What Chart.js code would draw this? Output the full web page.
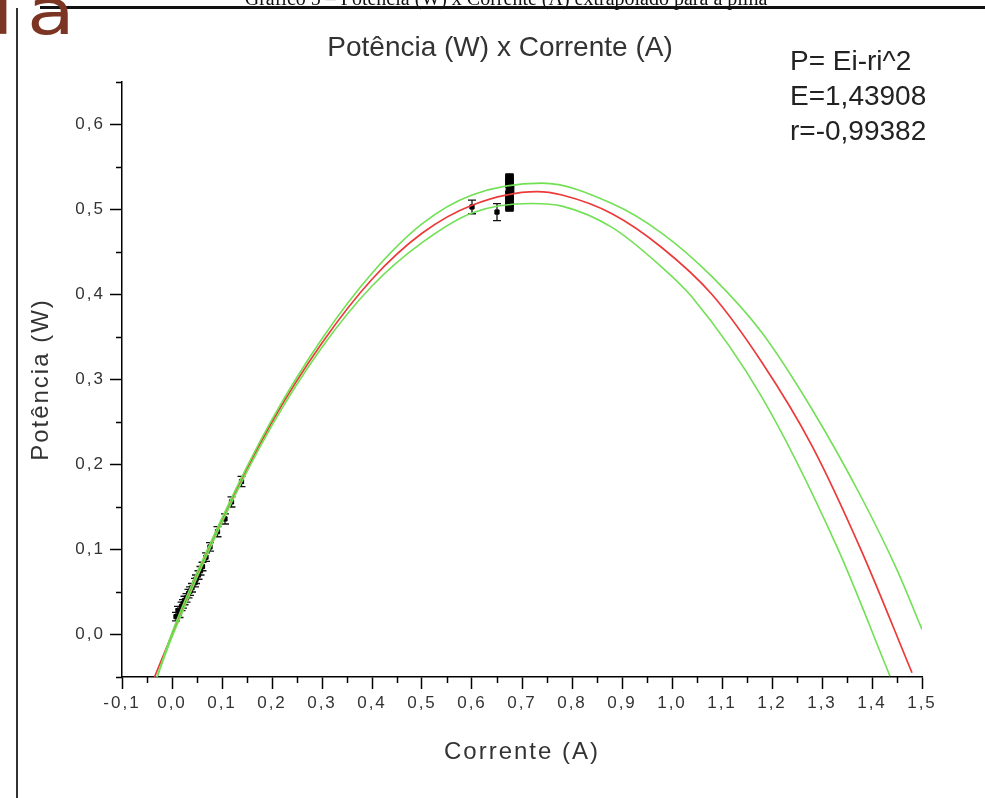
<!DOCTYPE html>
<html lang="pt">
<head>
<meta charset="utf-8">
<title>Potência (W) x Corrente (A)</title>
<script src="https://cdn.jsdelivr.net/npm/chart.js@4/dist/chart.umd.min.js"></script>
<style>
  body { margin: 0; background: #fff; }
  #wrap { position: relative; width: 985px; height: 798px; overflow: hidden; font-family: "Liberation Sans", Arial, sans-serif; }
  #potChart { position: absolute; left: 0; top: 0; }
  .caption { position: absolute; left: 0; width: 1012px; top: -13px; text-align: center; font: 20px "Liberation Serif", serif; color: #111; white-space: nowrap; }
  .rule-top { position: absolute; left: 40px; top: 6px; width: 945px; height: 3px; background: #111; }
  .rule-left { position: absolute; left: 16px; top: 8px; width: 2px; height: 790px; background: #333; }
  .slide-word { position: absolute; left: -8px; top: -25px; font: 64px "DejaVu Sans", sans-serif; color: #7c3523; letter-spacing: 11px; transform: scaleX(1.22); transform-origin: left top; }
  .title { position: absolute; left: 250px; width: 500px; top: 31px; text-align: center; font-size: 28px; color: #333; white-space: nowrap; }
  .fit-note { position: absolute; left: 790px; top: 43px; font-size: 28px; line-height: 35px; color: #222; white-space: nowrap; }
</style>
</head>
<body>
<div id="wrap">
  <canvas id="potChart" width="985" height="798"></canvas>
  <div class="caption">Gráfico 5 – Potência (W) x Corrente (A) extrapolado para a pilha</div>
  <div class="rule-top"></div>
  <div class="rule-left"></div>
  <div class="slide-word">la</div>
  <div class="title">Potência (W) x Corrente (A)</div>
  <div class="fit-note">P= Ei-ri^2<br>E=1,43908<br>r=-0,99382</div>
</div>
<script>
// Measured points (current in A, power in W) with their vertical error
const correnteA = [0.008, 0.012, 0.015, 0.019, 0.022, 0.025, 0.029, 0.033, 0.036, 0.040, 0.046, 0.048, 0.053, 0.057,
  0.061, 0.068, 0.076, 0.091, 0.106, 0.119, 0.139, 0.600, 0.650, 0.675, 0.675, 0.675, 0.676, 0.675, 0.675];
const potenciaW = [0.021, 0.028, 0.025, 0.033, 0.036, 0.040, 0.043, 0.048, 0.051, 0.055, 0.061, 0.065, 0.070, 0.075,
  0.080, 0.091, 0.103, 0.121, 0.136, 0.156, 0.180, 0.503, 0.497, 0.503, 0.510, 0.517, 0.524, 0.531, 0.537];
const erroW = [0.005, 0.005, 0.005, 0.005, 0.005, 0.005, 0.005, 0.005, 0.005, 0.005, 0.005, 0.005, 0.005, 0.005,
  0.005, 0.005, 0.005, 0.006, 0.006, 0.006, 0.006, 0.008, 0.010, 0.005, 0.005, 0.005, 0.005, 0.005, 0.005];

// Fitted curve P = Ei - ri^2 (red)
const ajusteX = [-0.035, 0.0, 0.1, 0.2, 0.3, 0.4, 0.5, 0.6, 0.73, 0.78, 0.88, 0.98, 1.08, 1.18, 1.28, 1.38, 1.48];
const ajusteY = [-0.05, 0.0, 0.135, 0.25, 0.343, 0.418, 0.472, 0.505, 0.521, 0.517, 0.495, 0.455, 0.40, 0.32, 0.222, 0.097, -0.045];

// Confidence band (green), upper and lower
const bandaSupX = [-0.03, 0.0, 0.1, 0.2, 0.3, 0.4, 0.5, 0.6, 0.74, 0.88, 0.98, 1.08, 1.18, 1.28, 1.38, 1.45, 1.5];
const bandaSupY = [-0.05, 0.002, 0.137, 0.253, 0.348, 0.425, 0.483, 0.517, 0.531, 0.507, 0.472, 0.421, 0.355, 0.265, 0.160, 0.076, 0.006];
const bandaInfX = [-0.03, 0.0, 0.1, 0.2, 0.3, 0.4, 0.5, 0.6, 0.72, 0.78, 0.88, 0.98, 1.04, 1.18, 1.33, 1.436];
const bandaInfY = [-0.05, -0.003, 0.132, 0.246, 0.338, 0.41, 0.461, 0.496, 0.507, 0.504, 0.479, 0.432, 0.397, 0.279, 0.103, -0.049];

const toXY = (xs, ys) => xs.map((x, i) => ({ x: x, y: ys[i] }));
const isMajor = v => Math.abs(Math.round(v * 100)) % 10 === 0;
const fmt = v => (Math.round(v * 10) / 10).toFixed(1).replace('.', ',');

// the original's labels are widely spaced
const spacedText = {
  id: 'spacedText',
  beforeDraw(chart) {
    chart.ctx.letterSpacing = '2px';
  }
};

// short minor ticks, Chart.js only has one tick length
const minorTicks = {
  id: 'minorTicks',
  afterDraw(chart) {
    const { ctx, scales: { x, y } } = chart;
    ctx.save();
    ctx.strokeStyle = '#000';
    ctx.lineWidth = 1.5;
    ctx.beginPath();
    x.ticks.forEach(t => {
      if (isMajor(t.value)) return;
      const px = Math.round(x.getPixelForValue(t.value)) + 0.5;
      ctx.moveTo(px, x.top);
      ctx.lineTo(px, x.top + 6);
    });
    y.ticks.forEach(t => {
      if (isMajor(t.value)) return;
      const py = Math.round(y.getPixelForValue(t.value)) + 0.5;
      ctx.moveTo(y.right, py);
      ctx.lineTo(y.right - 6, py);
    });
    ctx.stroke();
    ctx.restore();
  }
};

// vertical error bars under the measured points
const errorBars = {
  id: 'errorBars',
  beforeDatasetsDraw(chart) {
    const { ctx, scales: { x, y } } = chart;
    ctx.save();
    ctx.strokeStyle = '#111';
    ctx.lineWidth = 1.3;
    ctx.beginPath();
    correnteA.forEach((c, i) => {
      const px = x.getPixelForValue(c);
      const top = y.getPixelForValue(potenciaW[i] + erroW[i]);
      const bot = y.getPixelForValue(potenciaW[i] - erroW[i]);
      ctx.moveTo(px, top); ctx.lineTo(px, bot);
      ctx.moveTo(px - 4, top); ctx.lineTo(px + 4, top);
      ctx.moveTo(px - 4, bot); ctx.lineTo(px + 4, bot);
    });
    ctx.stroke();
    ctx.restore();
  }
};

const tickFont = { family: '"Liberation Sans", Arial, sans-serif', size: 17 };
const titleFont = { family: '"Liberation Sans", Arial, sans-serif', size: 24 };

new Chart(document.getElementById('potChart'), {
  type: 'scatter',
  data: {
    datasets: [
      {
        label: 'Limite superior',
        data: toXY(bandaSupX, bandaSupY),
        showLine: true,
        borderColor: '#72e055',
        borderWidth: 1.6,
        pointRadius: 0,
        cubicInterpolationMode: 'monotone'
      },
      {
        label: 'Limite inferior',
        data: toXY(bandaInfX, bandaInfY),
        showLine: true,
        borderColor: '#72e055',
        borderWidth: 1.6,
        pointRadius: 0,
        cubicInterpolationMode: 'monotone'
      },
      {
        label: 'Ajuste',
        data: toXY(ajusteX, ajusteY),
        showLine: true,
        borderColor: '#ec3a3a',
        borderWidth: 1.7,
        pointRadius: 0,
        cubicInterpolationMode: 'monotone'
      },
      {
        label: 'Potência',
        data: toXY(correnteA, potenciaW),
        backgroundColor: '#000',
        borderColor: '#000',
        pointStyle: 'rect',
        pointRadius: correnteA.map(c => c > 0.66 ? 5.5 : 3)
      }
    ]
  },
  options: {
    responsive: false,
    animation: false,
    layout: { padding: { top: 82, right: 63, left: 0, bottom: 0 } },
    plugins: {
      legend: { display: false },
      tooltip: { enabled: false }
    },
    scales: {
      x: {
        type: 'linear',
        min: -0.1,
        max: 1.5,
        afterFit: s => { s.height = 121; },
        border: { color: '#000', width: 1.5 },
        grid: {
          drawOnChartArea: false,
          tickLength: 12,
          tickWidth: 1.5,
          tickColor: c => (c.tick && isMajor(c.tick.value)) ? '#000' : 'rgba(0,0,0,0)'
        },
        ticks: {
          stepSize: 0.05,
          autoSkip: false,
          maxRotation: 0,
          padding: 4,
          color: '#333',
          font: tickFont,
          callback: v => isMajor(v) ? fmt(v) : ''
        },
        title: {
          display: true,
          text: 'Corrente (A)',
          color: '#333',
          font: titleFont,
          padding: { top: 0, bottom: 31 }
        }
      },
      y: {
        type: 'linear',
        min: -0.05,
        max: 0.65,
        afterFit: s => { s.width = 122; },
        border: { color: '#000', width: 1.5 },
        grid: {
          drawOnChartArea: false,
          tickLength: 12,
          tickWidth: 1.5,
          tickColor: c => (c.tick && isMajor(c.tick.value)) ? '#000' : 'rgba(0,0,0,0)'
        },
        ticks: {
          stepSize: 0.05,
          autoSkip: false,
          padding: 5,
          color: '#333',
          font: tickFont,
          callback: v => isMajor(v) ? fmt(v) : ''
        },
        title: {
          display: true,
          text: 'Potência (W)',
          color: '#333',
          font: titleFont,
          padding: { top: 27, bottom: 0 }
        }
      }
    }
  },
  plugins: [spacedText, minorTicks, errorBars]
});
</script>
</body>
</html>
